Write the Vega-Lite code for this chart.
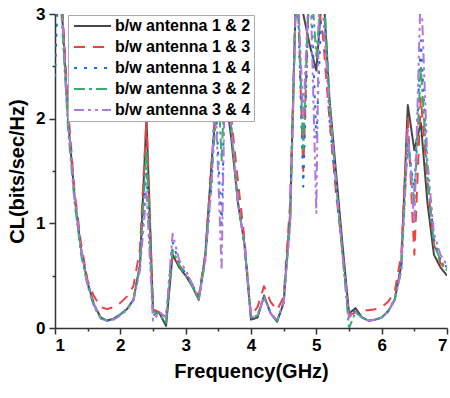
{
  "$schema": "https://vega.github.io/schema/vega-lite/v6.json",
  "width": 392,
  "height": 314,
  "autosize": "none",
  "padding": {"left": 55, "top": 14, "right": 3, "bottom": 70},
  "background": "white",
  "config": {"view": {"stroke": null}, "font": "Liberation Sans"},
  "data": {"values": [
    {"f":1.0,"b/w antenna 1 & 2":4.5,"b/w antenna 1 & 3":4.5,"b/w antenna 1 & 4":2.4,"b/w antenna 3 & 2":4.5,"b/w antenna 3 & 4":4.5},
    {"f":1.05,"b/w antenna 1 & 2":null,"b/w antenna 1 & 3":null,"b/w antenna 1 & 4":3.3,"b/w antenna 3 & 2":null,"b/w antenna 3 & 4":null},
    {"f":1.1,"b/w antenna 1 & 2":3.1,"b/w antenna 1 & 3":3.2,"b/w antenna 1 & 4":3.1,"b/w antenna 3 & 2":3.0,"b/w antenna 3 & 4":3.1},
    {"f":1.2,"b/w antenna 1 & 2":2.0,"b/w antenna 1 & 3":2.1,"b/w antenna 1 & 4":2.0,"b/w antenna 3 & 2":1.9,"b/w antenna 3 & 4":2.0},
    {"f":1.3,"b/w antenna 1 & 2":1.25,"b/w antenna 1 & 3":1.3,"b/w antenna 1 & 4":1.25,"b/w antenna 3 & 2":1.2,"b/w antenna 3 & 4":1.25},
    {"f":1.4,"b/w antenna 1 & 2":0.75,"b/w antenna 1 & 3":0.8,"b/w antenna 1 & 4":0.75,"b/w antenna 3 & 2":0.7,"b/w antenna 3 & 4":0.75},
    {"f":1.5,"b/w antenna 1 & 2":0.43,"b/w antenna 1 & 3":0.45,"b/w antenna 1 & 4":0.42,"b/w antenna 3 & 2":0.4,"b/w antenna 3 & 4":0.42},
    {"f":1.6,"b/w antenna 1 & 2":0.22,"b/w antenna 1 & 3":0.3,"b/w antenna 1 & 4":0.22,"b/w antenna 3 & 2":0.2,"b/w antenna 3 & 4":0.22},
    {"f":1.7,"b/w antenna 1 & 2":0.1,"b/w antenna 1 & 3":0.2,"b/w antenna 1 & 4":0.1,"b/w antenna 3 & 2":0.09,"b/w antenna 3 & 4":0.1},
    {"f":1.8,"b/w antenna 1 & 2":0.07,"b/w antenna 1 & 3":0.18,"b/w antenna 1 & 4":0.07,"b/w antenna 3 & 2":0.07,"b/w antenna 3 & 4":0.07},
    {"f":1.9,"b/w antenna 1 & 2":0.09,"b/w antenna 1 & 3":0.2,"b/w antenna 1 & 4":0.09,"b/w antenna 3 & 2":0.09,"b/w antenna 3 & 4":0.08},
    {"f":2.0,"b/w antenna 1 & 2":0.13,"b/w antenna 1 & 3":0.24,"b/w antenna 1 & 4":0.13,"b/w antenna 3 & 2":0.13,"b/w antenna 3 & 4":0.12},
    {"f":2.1,"b/w antenna 1 & 2":0.18,"b/w antenna 1 & 3":0.3,"b/w antenna 1 & 4":0.18,"b/w antenna 3 & 2":0.18,"b/w antenna 3 & 4":0.17},
    {"f":2.2,"b/w antenna 1 & 2":0.27,"b/w antenna 1 & 3":0.4,"b/w antenna 1 & 4":0.27,"b/w antenna 3 & 2":0.27,"b/w antenna 3 & 4":0.26},
    {"f":2.3,"b/w antenna 1 & 2":0.6,"b/w antenna 1 & 3":0.75,"b/w antenna 1 & 4":0.6,"b/w antenna 3 & 2":0.6,"b/w antenna 3 & 4":0.55},
    {"f":2.4,"b/w antenna 1 & 2":2.0,"b/w antenna 1 & 3":2.0,"b/w antenna 1 & 4":1.5,"b/w antenna 3 & 2":1.7,"b/w antenna 3 & 4":1.3},
    {"f":2.5,"b/w antenna 1 & 2":0.17,"b/w antenna 1 & 3":0.18,"b/w antenna 1 & 4":0.12,"b/w antenna 3 & 2":0.16,"b/w antenna 3 & 4":0.07},
    {"f":2.6,"b/w antenna 1 & 2":0.14,"b/w antenna 1 & 3":0.15,"b/w antenna 1 & 4":0.15,"b/w antenna 3 & 2":0.13,"b/w antenna 3 & 4":0.15},
    {"f":2.7,"b/w antenna 1 & 2":0.02,"b/w antenna 1 & 3":0.08,"b/w antenna 1 & 4":0.1,"b/w antenna 3 & 2":0.05,"b/w antenna 3 & 4":0.1},
    {"f":2.8,"b/w antenna 1 & 2":0.7,"b/w antenna 1 & 3":0.72,"b/w antenna 1 & 4":0.82,"b/w antenna 3 & 2":0.75,"b/w antenna 3 & 4":0.9},
    {"f":2.9,"b/w antenna 1 & 2":0.58,"b/w antenna 1 & 3":0.6,"b/w antenna 1 & 4":0.62,"b/w antenna 3 & 2":0.6,"b/w antenna 3 & 4":0.65},
    {"f":3.0,"b/w antenna 1 & 2":0.5,"b/w antenna 1 & 3":0.52,"b/w antenna 1 & 4":0.52,"b/w antenna 3 & 2":0.5,"b/w antenna 3 & 4":0.55},
    {"f":3.1,"b/w antenna 1 & 2":0.4,"b/w antenna 1 & 3":0.42,"b/w antenna 1 & 4":0.42,"b/w antenna 3 & 2":0.4,"b/w antenna 3 & 4":0.42},
    {"f":3.2,"b/w antenna 1 & 2":0.27,"b/w antenna 1 & 3":0.3,"b/w antenna 1 & 4":0.28,"b/w antenna 3 & 2":0.27,"b/w antenna 3 & 4":0.28},
    {"f":3.3,"b/w antenna 1 & 2":0.7,"b/w antenna 1 & 3":0.7,"b/w antenna 1 & 4":0.65,"b/w antenna 3 & 2":0.65,"b/w antenna 3 & 4":0.65},
    {"f":3.4,"b/w antenna 1 & 2":1.6,"b/w antenna 1 & 3":1.6,"b/w antenna 1 & 4":1.4,"b/w antenna 3 & 2":1.5,"b/w antenna 3 & 4":1.4},
    {"f":3.45,"b/w antenna 1 & 2":null,"b/w antenna 1 & 3":null,"b/w antenna 1 & 4":2.3,"b/w antenna 3 & 2":null,"b/w antenna 3 & 4":2.3},
    {"f":3.5,"b/w antenna 1 & 2":2.4,"b/w antenna 1 & 3":2.5,"b/w antenna 1 & 4":null,"b/w antenna 3 & 2":2.3,"b/w antenna 3 & 4":null},
    {"f":3.55,"b/w antenna 1 & 2":null,"b/w antenna 1 & 3":null,"b/w antenna 1 & 4":0.95,"b/w antenna 3 & 2":1.6,"b/w antenna 3 & 4":0.55},
    {"f":3.6,"b/w antenna 1 & 2":2.3,"b/w antenna 1 & 3":2.4,"b/w antenna 1 & 4":2.4,"b/w antenna 3 & 2":2.4,"b/w antenna 3 & 4":2.4},
    {"f":3.7,"b/w antenna 1 & 2":1.8,"b/w antenna 1 & 3":2.0,"b/w antenna 1 & 4":1.9,"b/w antenna 3 & 2":1.9,"b/w antenna 3 & 4":1.9},
    {"f":3.8,"b/w antenna 1 & 2":1.2,"b/w antenna 1 & 3":1.4,"b/w antenna 1 & 4":1.2,"b/w antenna 3 & 2":1.2,"b/w antenna 3 & 4":1.2},
    {"f":3.9,"b/w antenna 1 & 2":0.8,"b/w antenna 1 & 3":0.85,"b/w antenna 1 & 4":0.8,"b/w antenna 3 & 2":0.8,"b/w antenna 3 & 4":0.8},
    {"f":4.0,"b/w antenna 1 & 2":0.08,"b/w antenna 1 & 3":0.12,"b/w antenna 1 & 4":0.1,"b/w antenna 3 & 2":0.1,"b/w antenna 3 & 4":0.1},
    {"f":4.1,"b/w antenna 1 & 2":0.1,"b/w antenna 1 & 3":0.2,"b/w antenna 1 & 4":0.12,"b/w antenna 3 & 2":0.12,"b/w antenna 3 & 4":0.12},
    {"f":4.2,"b/w antenna 1 & 2":0.31,"b/w antenna 1 & 3":0.4,"b/w antenna 1 & 4":0.3,"b/w antenna 3 & 2":0.3,"b/w antenna 3 & 4":0.3},
    {"f":4.3,"b/w antenna 1 & 2":0.14,"b/w antenna 1 & 3":0.25,"b/w antenna 1 & 4":0.14,"b/w antenna 3 & 2":0.14,"b/w antenna 3 & 4":0.14},
    {"f":4.4,"b/w antenna 1 & 2":0.06,"b/w antenna 1 & 3":0.17,"b/w antenna 1 & 4":0.07,"b/w antenna 3 & 2":0.07,"b/w antenna 3 & 4":0.07},
    {"f":4.5,"b/w antenna 1 & 2":0.24,"b/w antenna 1 & 3":0.3,"b/w antenna 1 & 4":0.25,"b/w antenna 3 & 2":0.25,"b/w antenna 3 & 4":0.25},
    {"f":4.6,"b/w antenna 1 & 2":1.1,"b/w antenna 1 & 3":1.2,"b/w antenna 1 & 4":1.1,"b/w antenna 3 & 2":1.0,"b/w antenna 3 & 4":1.0},
    {"f":4.7,"b/w antenna 1 & 2":3.5,"b/w antenna 1 & 3":3.5,"b/w antenna 1 & 4":3.5,"b/w antenna 3 & 2":3.5,"b/w antenna 3 & 4":3.5},
    {"f":4.8,"b/w antenna 1 & 2":3.0,"b/w antenna 1 & 3":1.5,"b/w antenna 1 & 4":1.35,"b/w antenna 3 & 2":1.7,"b/w antenna 3 & 4":2.0},
    {"f":4.9,"b/w antenna 1 & 2":2.7,"b/w antenna 1 & 3":3.5,"b/w antenna 1 & 4":3.5,"b/w antenna 3 & 2":3.5,"b/w antenna 3 & 4":3.5},
    {"f":5.0,"b/w antenna 1 & 2":2.46,"b/w antenna 1 & 3":3.2,"b/w antenna 1 & 4":1.8,"b/w antenna 3 & 2":2.6,"b/w antenna 3 & 4":1.1},
    {"f":5.05,"b/w antenna 1 & 2":null,"b/w antenna 1 & 3":null,"b/w antenna 1 & 4":null,"b/w antenna 3 & 2":null,"b/w antenna 3 & 4":3.5},
    {"f":5.1,"b/w antenna 1 & 2":3.3,"b/w antenna 1 & 3":2.8,"b/w antenna 1 & 4":3.4,"b/w antenna 3 & 2":3.4,"b/w antenna 3 & 4":null},
    {"f":5.2,"b/w antenna 1 & 2":2.2,"b/w antenna 1 & 3":2.0,"b/w antenna 1 & 4":2.0,"b/w antenna 3 & 2":2.2,"b/w antenna 3 & 4":2.1},
    {"f":5.3,"b/w antenna 1 & 2":1.5,"b/w antenna 1 & 3":1.3,"b/w antenna 1 & 4":1.3,"b/w antenna 3 & 2":1.4,"b/w antenna 3 & 4":1.4},
    {"f":5.4,"b/w antenna 1 & 2":0.8,"b/w antenna 1 & 3":0.75,"b/w antenna 1 & 4":0.7,"b/w antenna 3 & 2":0.7,"b/w antenna 3 & 4":0.7},
    {"f":5.5,"b/w antenna 1 & 2":0.14,"b/w antenna 1 & 3":0.12,"b/w antenna 1 & 4":0.13,"b/w antenna 3 & 2":0.0,"b/w antenna 3 & 4":0.1},
    {"f":5.6,"b/w antenna 1 & 2":0.19,"b/w antenna 1 & 3":0.15,"b/w antenna 1 & 4":0.17,"b/w antenna 3 & 2":0.15,"b/w antenna 3 & 4":0.15},
    {"f":5.7,"b/w antenna 1 & 2":0.1,"b/w antenna 1 & 3":0.17,"b/w antenna 1 & 4":0.1,"b/w antenna 3 & 2":0.1,"b/w antenna 3 & 4":0.1},
    {"f":5.8,"b/w antenna 1 & 2":0.07,"b/w antenna 1 & 3":0.17,"b/w antenna 1 & 4":0.07,"b/w antenna 3 & 2":0.07,"b/w antenna 3 & 4":0.07},
    {"f":5.9,"b/w antenna 1 & 2":0.08,"b/w antenna 1 & 3":0.18,"b/w antenna 1 & 4":0.08,"b/w antenna 3 & 2":0.08,"b/w antenna 3 & 4":0.08},
    {"f":6.0,"b/w antenna 1 & 2":0.1,"b/w antenna 1 & 3":0.2,"b/w antenna 1 & 4":0.1,"b/w antenna 3 & 2":0.1,"b/w antenna 3 & 4":0.1},
    {"f":6.1,"b/w antenna 1 & 2":0.16,"b/w antenna 1 & 3":0.25,"b/w antenna 1 & 4":0.16,"b/w antenna 3 & 2":0.16,"b/w antenna 3 & 4":0.16},
    {"f":6.2,"b/w antenna 1 & 2":0.27,"b/w antenna 1 & 3":0.35,"b/w antenna 1 & 4":0.28,"b/w antenna 3 & 2":0.27,"b/w antenna 3 & 4":0.27},
    {"f":6.3,"b/w antenna 1 & 2":0.6,"b/w antenna 1 & 3":0.7,"b/w antenna 1 & 4":0.6,"b/w antenna 3 & 2":0.55,"b/w antenna 3 & 4":0.55},
    {"f":6.4,"b/w antenna 1 & 2":2.13,"b/w antenna 1 & 3":2.0,"b/w antenna 1 & 4":1.8,"b/w antenna 3 & 2":1.8,"b/w antenna 3 & 4":1.9},
    {"f":6.5,"b/w antenna 1 & 2":1.7,"b/w antenna 1 & 3":0.7,"b/w antenna 1 & 4":1.3,"b/w antenna 3 & 2":1.2,"b/w antenna 3 & 4":1.0},
    {"f":6.6,"b/w antenna 1 & 2":1.96,"b/w antenna 1 & 3":2.2,"b/w antenna 1 & 4":2.75,"b/w antenna 3 & 2":2.5,"b/w antenna 3 & 4":3.3},
    {"f":6.7,"b/w antenna 1 & 2":1.2,"b/w antenna 1 & 3":1.4,"b/w antenna 1 & 4":1.5,"b/w antenna 3 & 2":1.45,"b/w antenna 3 & 4":1.6},
    {"f":6.8,"b/w antenna 1 & 2":0.7,"b/w antenna 1 & 3":0.8,"b/w antenna 1 & 4":0.85,"b/w antenna 3 & 2":0.8,"b/w antenna 3 & 4":0.9},
    {"f":6.9,"b/w antenna 1 & 2":0.58,"b/w antenna 1 & 3":0.62,"b/w antenna 1 & 4":0.65,"b/w antenna 3 & 2":0.65,"b/w antenna 3 & 4":0.7},
    {"f":7.0,"b/w antenna 1 & 2":0.5,"b/w antenna 1 & 3":0.55,"b/w antenna 1 & 4":0.58,"b/w antenna 3 & 2":0.55,"b/w antenna 3 & 4":0.6}
  ]},
  "transform": [
    {"fold": ["b/w antenna 1 & 2","b/w antenna 1 & 3","b/w antenna 1 & 4","b/w antenna 3 & 2","b/w antenna 3 & 4"], "as": ["series","v"]},
    {"filter": "isValid(datum.v)"}
  ],
  "layer": [
    {
      "mark": {"type": "line", "clip": true, "strokeWidth": 2, "strokeJoin": "round"},
      "encoding": {
        "x": {"field": "f", "type": "quantitative", "scale": {"domain": [1,7], "nice": false},
          "axis": {"values": [1,2,3,4,5,6,7], "grid": false, "tickSize": 6, "tickColor": "#333", "domainColor": "#333", "domainWidth": 1.5, "tickWidth": 1.5,
            "labelFontSize": 17, "labelFontWeight": "bold", "labelColor": "#000", "labelPadding": 3, "labelFont": "Liberation Sans",
            "title": "Frequency(GHz)", "titleFontSize": 20, "titleFontWeight": "bold", "titleColor": "#000", "titlePadding": 8, "titleFont": "Liberation Sans"}},
        "y": {"field": "v", "type": "quantitative", "scale": {"domain": [0,3], "nice": false},
          "axis": {"values": [0,1,2,3], "grid": false, "tickSize": 6, "tickColor": "#333", "domainColor": "#333", "domainWidth": 1.5, "tickWidth": 1.5,
            "labelFontSize": 17, "labelFontWeight": "bold", "labelColor": "#000", "labelPadding": 4, "labelFont": "Liberation Sans",
            "title": "CL(bits/sec/Hz)", "titleFontSize": 20, "titleFontWeight": "bold", "titleColor": "#000", "titlePadding": 8, "titleFont": "Liberation Sans"}},
        "color": {"field": "series", "type": "nominal",
          "scale": {"domain": ["b/w antenna 1 & 2","b/w antenna 1 & 3","b/w antenna 1 & 4","b/w antenna 3 & 2","b/w antenna 3 & 4"],
                    "range": ["#474747","#F14040","#1A6FDF","#37AD6B","#B177DE"]},
          "legend": {"title": null, "orient": "none", "legendX": 13, "legendY": 1, "symbolType": "M-1,0L6.4,0", "symbolSize": 100, "symbolStrokeWidth": 2,
            "labelFontSize": 16, "labelFontWeight": "bold", "labelColor": "#000", "labelFont": "Liberation Sans", "labelLimit": 300, "labelOffset": 28,
            "strokeColor": "#aaaaaa", "fillColor": "white", "padding": 3, "rowPadding": 5}},
        "strokeDash": {"field": "series", "type": "nominal",
          "scale": {"domain": ["b/w antenna 1 & 2","b/w antenna 1 & 3","b/w antenna 1 & 4","b/w antenna 3 & 2","b/w antenna 3 & 4"],
                    "range": [[1,0],[11,8],[3,7],[11,4,3,4],[10,4,3,4,3,4]]}}
      }
    },
    {
      "mark": {"type": "line", "opacity": 0, "clip": true},
      "encoding": {
        "x": {"field": "f", "type": "quantitative", "scale": {"domain": [1,7], "nice": false},
          "axis": {"orient": "bottom", "values": [1.5,2.5,3.5,4.5,5.5,6.5], "labels": false, "domain": false, "grid": false, "tickSize": 3, "tickWidth": 1.5, "tickColor": "#333", "title": null}},
        "y": {"field": "v", "type": "quantitative", "scale": {"domain": [0,3], "nice": false},
          "axis": {"orient": "left", "values": [0.5,1.5,2.5], "labels": false, "domain": false, "grid": false, "tickSize": 3, "tickWidth": 1.5, "tickColor": "#333", "title": null}},
        "detail": {"field": "series"}
      }
    }
  ],
  "resolve": {"axis": {"x": "independent", "y": "independent"}}
}
